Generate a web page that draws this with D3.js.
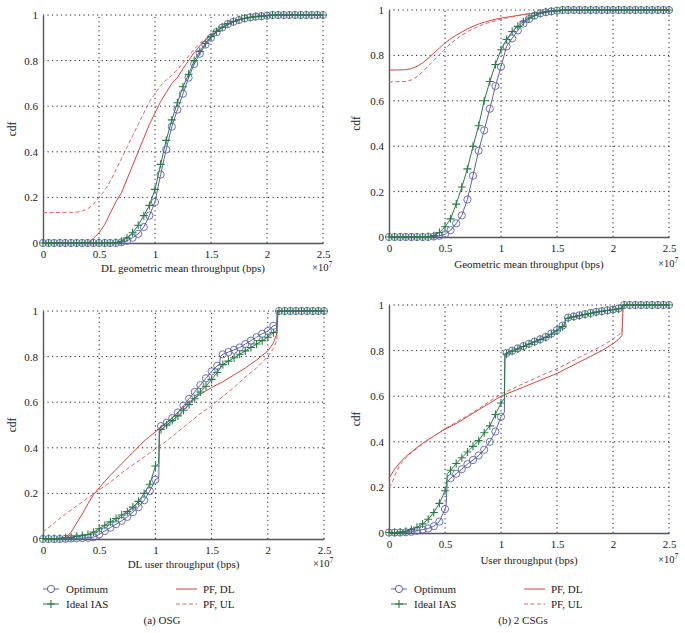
<!DOCTYPE html>
<html><head><meta charset="utf-8">
<script src="https://cdn.jsdelivr.net/npm/d3@7"></script>
<style>
html,body{margin:0;padding:0;background:#fff;}
svg{display:block;}
text{font-family:"Liberation Serif","DejaVu Serif",serif;fill:#222;}
</style></head>
<body>
<svg id="chart" width="685" height="633" font-family="Liberation Serif, serif"></svg>
<script>
// ---------------- DATA (x in units of 1e7 bps) ----------------
const xTicks = [0, 0.5, 1, 1.5, 2, 2.5];
const xTickLabels = ["0", "0.5", "1", "1.5", "2", "2.5"];
const yTicks = [0, 0.2, 0.4, 0.6, 0.8, 1];
const yTickLabels = ["0", "0.2", "0.4", "0.6", "0.8", "1"];
const seriesNames = ["Optimum", "Ideal IAS", "PF, DL", "PF, UL"];
const axisLabels = ["DL geometric mean throughput (bps)", "Geometric mean throughput (bps)",
                    "DL user throughput (bps)", "User throughput (bps)"];
const yLabel = "cdf";
const captions = ["(a) OSG", "(b) 2 CSGs"];
// marker sample positions: 0, 0.05, ..., 2.5
const sampleX = [0,0.05,0.1,0.15,0.2,0.25,0.3,0.35,0.4,0.45,0.5,0.55,0.6,0.65,0.7,0.75,0.8,0.85,0.9,0.95,
  1,1.05,1.1,1.15,1.2,1.25,1.3,1.35,1.4,1.45,1.5,1.55,1.6,1.65,1.7,1.75,1.8,1.85,1.9,1.95,
  2,2.05,2.1,2.15,2.2,2.25,2.3,2.35,2.4,2.45,2.5];

// Panel 1: DL geometric mean throughput (OSG)
const p1Opt = [0,0,0,0,0,0,0,0,0,0,0,0,0,0,0.003,0.01,0.023,0.04,0.07,0.12,
  0.18,0.30,0.41,0.51,0.585,0.655,0.725,0.785,0.83,0.87,0.9,0.925,0.945,0.96,0.97,0.978,0.985,0.99,0.993,0.995,
  0.997,1,1,1,1,1,1,1,1,1,1];
const p1Ias = [0,0,0,0,0,0,0,0,0,0,0,0,0,0.002,0.008,0.022,0.045,0.078,0.12,0.165,
  0.235,0.345,0.45,0.54,0.615,0.685,0.74,0.8,0.84,0.875,0.905,0.928,0.947,0.962,0.972,0.98,0.986,0.99,0.993,0.995,
  0.997,1,1,1,1,1,1,1,1,1,1];
const p1Opt_steps = [];
const p1Ias_steps = [];
const p1PfDl = [[0,0],[0.4,0],[0.45,0.02],[0.5,0.045],[0.55,0.08],[0.6,0.13],[0.65,0.18],[0.7,0.22],[0.75,0.28],
  [0.8,0.34],[0.85,0.4],[0.9,0.46],[0.95,0.52],[1.0,0.57],[1.05,0.62],[1.1,0.66],[1.15,0.7],[1.2,0.725],[1.25,0.765],
  [1.3,0.8],[1.35,0.835],[1.4,0.865],[1.45,0.89],[1.5,0.91],[1.6,0.945],[1.7,0.97],[1.8,0.985],[1.9,0.993],[2.0,0.997],[2.1,1],[2.5,1]];
const p1PfUl = [[0,0.133],[0.3,0.135],[0.35,0.14],[0.4,0.15],[0.45,0.17],[0.5,0.2],[0.55,0.23],[0.6,0.27],[0.65,0.32],
  [0.7,0.37],[0.75,0.42],[0.8,0.47],[0.85,0.52],[0.9,0.57],[0.95,0.62],[1.0,0.655],[1.05,0.69],[1.1,0.715],[1.15,0.735],
  [1.2,0.76],[1.25,0.79],[1.3,0.82],[1.35,0.85],[1.4,0.875],[1.45,0.895],[1.5,0.915],[1.6,0.948],[1.7,0.97],[1.8,0.985],
  [1.9,0.993],[2.0,0.997],[2.1,1],[2.5,1]];

// Panel 2: Geometric mean throughput (2 CSGs)
const p2Opt = [0,0,0,0,0,0,0,0,0.002,0.005,0.012,0.03,0.06,0.095,0.165,0.27,0.38,0.47,0.565,0.665,
  0.75,0.84,0.875,0.91,0.94,0.96,0.975,0.985,0.99,0.994,0.997,1,1,1,1,1,1,1,1,1,
  1,1,1,1,1,1,1,1,1,1,1];
const p2Ias = [0,0,0,0,0,0,0,0.002,0.006,0.02,0.045,0.08,0.145,0.22,0.30,0.40,0.49,0.60,0.685,0.76,
  0.825,0.87,0.905,0.928,0.948,0.965,0.977,0.986,0.992,0.995,0.997,1,1,1,1,1,1,1,1,1,
  1,1,1,1,1,1,1,1,1,1,1];
const p2Opt_steps = [];
const p2Ias_steps = [];
const p2PfDl = [[0,0.735],[0.15,0.737],[0.2,0.742],[0.25,0.752],[0.3,0.767],[0.35,0.787],[0.4,0.81],[0.45,0.832],
  [0.5,0.855],[0.55,0.873],[0.6,0.889],[0.65,0.903],[0.7,0.917],[0.75,0.928],[0.8,0.938],[0.85,0.946],[0.9,0.953],
  [0.95,0.959],[1.0,0.964],[1.1,0.972],[1.2,0.98],[1.3,0.987],[1.4,0.992],[1.5,0.996],[1.6,0.999],[1.7,1],[2.5,1]];
const p2PfUl = [[0,0.683],[0.15,0.685],[0.2,0.692],[0.25,0.706],[0.3,0.728],[0.35,0.753],[0.4,0.778],[0.45,0.803],
  [0.5,0.828],[0.55,0.852],[0.6,0.872],[0.65,0.889],[0.7,0.904],[0.75,0.917],[0.8,0.928],[0.85,0.938],[0.9,0.946],
  [0.95,0.953],[1.0,0.96],[1.1,0.97],[1.2,0.979],[1.3,0.986],[1.4,0.992],[1.5,0.996],[1.6,0.999],[1.7,1],[2.5,1]];

// Panel 3: DL user throughput (OSG)
const p3Opt = [0,0,0,0,0.001,0.002,0.003,0.004,0.005,0.008,0.02,0.035,0.05,0.065,0.08,0.097,0.118,0.14,0.17,0.21,
  0.26,0.495,0.51,0.53,0.555,0.585,0.615,0.645,0.675,0.705,0.735,0.76,0.81,0.82,0.83,0.84,0.855,0.87,0.885,0.9,
  0.912,0.935,1,1,1,1,1,1,1,1,1];
const p3Ias = [0.002,0.002,0.002,0.003,0.005,0.008,0.012,0.015,0.02,0.03,0.045,0.06,0.075,0.09,0.105,0.12,0.14,0.165,0.2,0.24,
  0.32,0.48,0.5,0.52,0.54,0.565,0.59,0.615,0.645,0.67,0.7,0.73,0.765,0.78,0.795,0.81,0.825,0.84,0.855,0.87,
  0.885,0.905,1,1,1,1,1,1,1,1,1];
const p3Opt_steps = [[1.03,0.27],[1.035,0.485],[1.572,0.765],[1.578,0.80],[2.08,0.94],[2.085,1]];
const p3Ias_steps = [[1.03,0.33],[1.035,0.47],[2.08,0.915],[2.085,1]];
const p3PfDl = [[0,0],[0.18,0],[0.2,0.005],[0.25,0.03],[0.3,0.07],[0.35,0.11],[0.4,0.155],[0.45,0.195],[0.5,0.225],
  [0.6,0.28],[0.7,0.33],[0.8,0.38],[0.9,0.43],[1.0,0.47],[1.1,0.51],[1.2,0.555],[1.3,0.6],[1.4,0.635],[1.5,0.665],
  [1.6,0.69],[1.7,0.72],[1.8,0.75],[1.9,0.785],[2.0,0.825],[2.05,0.86],[2.08,0.9],[2.09,1],[2.5,1]];
const p3PfUl = [[0,0.03],[0.1,0.07],[0.2,0.11],[0.3,0.145],[0.4,0.18],[0.5,0.215],[0.6,0.25],[0.7,0.29],[0.8,0.325],
  [0.9,0.36],[1.0,0.395],[1.1,0.43],[1.2,0.47],[1.3,0.51],[1.4,0.55],[1.5,0.585],[1.6,0.625],[1.7,0.665],[1.8,0.71],
  [1.9,0.75],[2.0,0.8],[2.05,0.835],[2.08,0.87],[2.09,1],[2.5,1]];

// Panel 4: User throughput (2 CSGs)
const p4Opt = [0.002,0.002,0.002,0.003,0.005,0.01,0.015,0.02,0.03,0.05,0.105,0.24,0.26,0.28,0.302,0.32,0.34,0.365,0.4,0.445,
  0.51,0.79,0.8,0.81,0.82,0.83,0.84,0.85,0.86,0.875,0.89,0.91,0.945,0.95,0.955,0.96,0.965,0.97,0.973,0.977,
  0.98,0.985,1,1,1,1,1,1,1,1,1];
const p4Ias = [0.002,0.002,0.004,0.008,0.015,0.025,0.04,0.06,0.09,0.13,0.185,0.275,0.305,0.33,0.355,0.38,0.405,0.44,0.47,0.52,
  0.57,0.785,0.797,0.807,0.818,0.828,0.838,0.848,0.858,0.872,0.887,0.905,0.942,0.948,0.953,0.958,0.963,0.968,0.972,0.976,
  0.979,0.983,1,1,1,1,1,1,1,1,1];
const p4Opt_steps = [[0.51,0.12],[0.52,0.225],[1.03,0.53],[1.035,0.785],[1.57,0.915],[1.575,0.94],[2.08,0.988],[2.085,1]];
const p4Ias_steps = [[0.51,0.2],[0.52,0.26],[1.03,0.59],[1.035,0.78],[1.57,0.91],[1.575,0.938],[2.08,0.986],[2.085,1]];
const p4PfDl = [[0,0.24],[0.05,0.28],[0.1,0.31],[0.15,0.335],[0.2,0.355],[0.25,0.375],[0.3,0.393],[0.35,0.41],[0.4,0.425],
  [0.5,0.455],[0.6,0.48],[0.7,0.51],[0.8,0.54],[0.9,0.57],[1.0,0.6],[1.1,0.62],[1.2,0.64],[1.3,0.66],[1.4,0.68],[1.5,0.7],
  [1.6,0.725],[1.7,0.75],[1.8,0.775],[1.9,0.8],[2.0,0.83],[2.05,0.85],[2.08,0.865],[2.09,1],[2.5,1]];
const p4PfUl = [[0,0.2],[0.03,0.22],[0.05,0.25],[0.1,0.3],[0.15,0.33],[0.2,0.352],[0.3,0.39],[0.4,0.425],[0.5,0.458],
  [0.6,0.485],[0.7,0.515],[0.8,0.545],[0.9,0.578],[1.0,0.61],[1.1,0.632],[1.2,0.655],[1.3,0.677],[1.4,0.7],[1.5,0.72],
  [1.6,0.745],[1.7,0.77],[1.8,0.795],[1.9,0.82],[2.0,0.85],[2.05,0.87],[2.08,0.88],[2.09,1],[2.5,1]];

// ---------------- STYLE ----------------
const COL_OPT = "#5d62aa", COL_IAS = "#2b7a48", COL_DL = "#d8433f", COL_UL = "#e06464";
const FONT = "Liberation Serif, DejaVu Serif, serif";
const svg = d3.select("#chart");

const panels = [
  {x0:43, x1:323, yTop:15, yBot:243, label:axisLabels[0], opt:p1Opt, ias:p1Ias, optS:p1Opt_steps, iasS:p1Ias_steps, dl:p1PfDl, ul:p1PfUl, labDy:29, cdfX:12},
  {x0:389, x1:669, yTop:10, yBot:237, label:axisLabels[1], opt:p2Opt, ias:p2Ias, optS:p2Opt_steps, iasS:p2Ias_steps, dl:p2PfDl, ul:p2PfUl, labDy:31, cdfX:356},
  {x0:43, x1:324, yTop:311, yBot:539, label:axisLabels[2], opt:p3Opt, ias:p3Ias, optS:p3Opt_steps, iasS:p3Ias_steps, dl:p3PfDl, ul:p3PfUl, labDy:29, cdfX:12},
  {x0:389, x1:669, yTop:305, yBot:533, label:axisLabels[3], opt:p4Opt, ias:p4Ias, optS:p4Opt_steps, iasS:p4Ias_steps, dl:p4PfDl, ul:p4PfUl, labDy:31, cdfX:356}
];

function merge(ys, steps) {
  const pts = sampleX.map((x, i) => [x, ys[i]]).concat(steps);
  return pts.sort((a, b) => a[0] - b[0]);
}

panels.forEach(p => {
  const x = d3.scaleLinear().domain([0, 2.5]).range([p.x0, p.x1]);
  const y = d3.scaleLinear().domain([0, 1]).range([p.yBot, p.yTop]);
  const g = svg.append("g");
  const line = d3.line().x(d => x(d[0])).y(d => y(d[1]));

  // grid (dotted)
  g.selectAll(".gx").data(xTicks.filter(t => t > 0)).enter().append("line")
    .attr("x1", d => x(d)).attr("x2", d => x(d)).attr("y1", p.yBot).attr("y2", p.yTop)
    .attr("stroke", "#222").attr("stroke-width", 1).attr("stroke-dasharray", "1.2,3.3");
  g.selectAll(".gy").data(yTicks.filter(t => t > 0)).enter().append("line")
    .attr("x1", p.x0).attr("x2", p.x1).attr("y1", d => y(d)).attr("y2", d => y(d))
    .attr("stroke", "#222").attr("stroke-width", 1).attr("stroke-dasharray", "1.2,3.3");

  // axes via d3
  const ax = d3.axisBottom(x).tickValues(xTicks).tickFormat((d, i) => xTickLabels[i]).tickSize(0).tickPadding(7);
  const ay = d3.axisLeft(y).tickValues(yTicks).tickFormat((d, i) => yTickLabels[i]).tickSize(0).tickPadding(5);
  const gx = g.append("g").attr("transform", `translate(0,${p.yBot})`).call(ax);
  const gy = g.append("g").attr("transform", `translate(${p.x0},0)`).call(ay);
  [gx, gy].forEach(a => {
    a.attr("font-family", FONT);
    a.select(".domain").attr("stroke", "#555").attr("stroke-width", 1.4);
    a.selectAll("text").attr("font-family", FONT).attr("font-size", 11).attr("fill", "#222");
  });

  // x10^7
  const mt = g.append("text").attr("x", p.x1 - 11).attr("y", p.yBot + p.labDy - 1)
    .attr("font-family", FONT).attr("font-size", 10.5).attr("fill", "#333");
  mt.append("tspan").text("×10");
  mt.append("tspan").attr("dy", -4).attr("font-size", 7.5).text("7");

  // axis labels
  g.append("text").attr("x", (p.x0 + p.x1) / 2).attr("y", p.yBot + p.labDy)
    .attr("text-anchor", "middle").attr("font-family", FONT).attr("font-size", 11).text(p.label);
  g.append("text").attr("transform", `translate(${p.cdfX + 4},${(p.yTop + p.yBot) / 2}) rotate(-90)`)
    .attr("text-anchor", "middle").attr("font-family", FONT).attr("font-size", 11.5).text(yLabel);

  // PF curves
  g.append("path").datum(p.dl).attr("d", line).attr("fill", "none").attr("stroke", COL_DL).attr("stroke-width", 1);
  g.append("path").datum(p.ul).attr("d", line).attr("fill", "none").attr("stroke", COL_UL).attr("stroke-width", 1)
    .attr("stroke-dasharray", "4,2.5");

  // Optimum and Ideal IAS lines
  g.append("path").datum(merge(p.opt, p.optS)).attr("d", line).attr("fill", "none").attr("stroke", COL_OPT).attr("stroke-width", 1);
  g.append("path").datum(merge(p.ias, p.iasS)).attr("d", line).attr("fill", "none").attr("stroke", COL_IAS).attr("stroke-width", 1);

  // markers
  g.selectAll(".mo").data(sampleX.map((sx, i) => [sx, p.opt[i]])).enter().append("circle")
    .attr("cx", d => x(d[0])).attr("cy", d => y(d[1])).attr("r", 3.6)
    .attr("fill", "none").attr("stroke", COL_OPT).attr("stroke-width", 0.9);
  g.selectAll(".mi").data(sampleX.map((sx, i) => [sx, p.ias[i]])).enter().append("path")
    .attr("transform", d => `translate(${x(d[0])},${y(d[1])})`)
    .attr("d", "M-4,0H4M0,-4V4").attr("stroke", COL_IAS).attr("stroke-width", 1.1);
});

// ---------------- LEGENDS ----------------
const legends = [
  {lx:43, tx:66, px:176, ptx:203, cap:captions[0], capX:162},
  {lx:391, tx:414, px:524, ptx:551, cap:captions[1], capX:523}
];
const row1 = 589, row2 = 604, capY = 624;
legends.forEach(L => {
  const g = svg.append("g").attr("font-family", FONT);
  // Optimum
  g.append("line").attr("x1", L.lx).attr("x2", L.lx + 16).attr("y1", row1).attr("y2", row1).attr("stroke", COL_OPT);
  g.append("circle").attr("cx", L.lx + 8).attr("cy", row1).attr("r", 3.6).attr("fill", "#fff").attr("stroke", COL_OPT);
  g.append("text").attr("x", L.tx).attr("y", row1 + 3.5).attr("font-size", 11).text(seriesNames[0]);
  // Ideal IAS
  g.append("line").attr("x1", L.lx).attr("x2", L.lx + 16).attr("y1", row2).attr("y2", row2).attr("stroke", COL_IAS);
  g.append("path").attr("transform", `translate(${L.lx + 8},${row2})`).attr("d", "M-4,0H4M0,-4V4").attr("stroke", COL_IAS).attr("stroke-width", 1.1);
  g.append("text").attr("x", L.tx).attr("y", row2 + 3.5).attr("font-size", 11).text(seriesNames[1]);
  // PF, DL
  g.append("line").attr("x1", L.px).attr("x2", L.px + 21).attr("y1", row1).attr("y2", row1).attr("stroke", COL_DL);
  g.append("text").attr("x", L.ptx).attr("y", row1 + 3.5).attr("font-size", 11).text(seriesNames[2]);
  // PF, UL
  g.append("line").attr("x1", L.px).attr("x2", L.px + 21).attr("y1", row2).attr("y2", row2).attr("stroke", COL_UL).attr("stroke-dasharray", "4,2.5");
  g.append("text").attr("x", L.ptx).attr("y", row2 + 3.5).attr("font-size", 11).text(seriesNames[3]);
  // caption
  g.append("text").attr("x", L.capX).attr("y", capY).attr("text-anchor", "middle").attr("font-size", 11).text(L.cap);
});
</script>
</body></html>
